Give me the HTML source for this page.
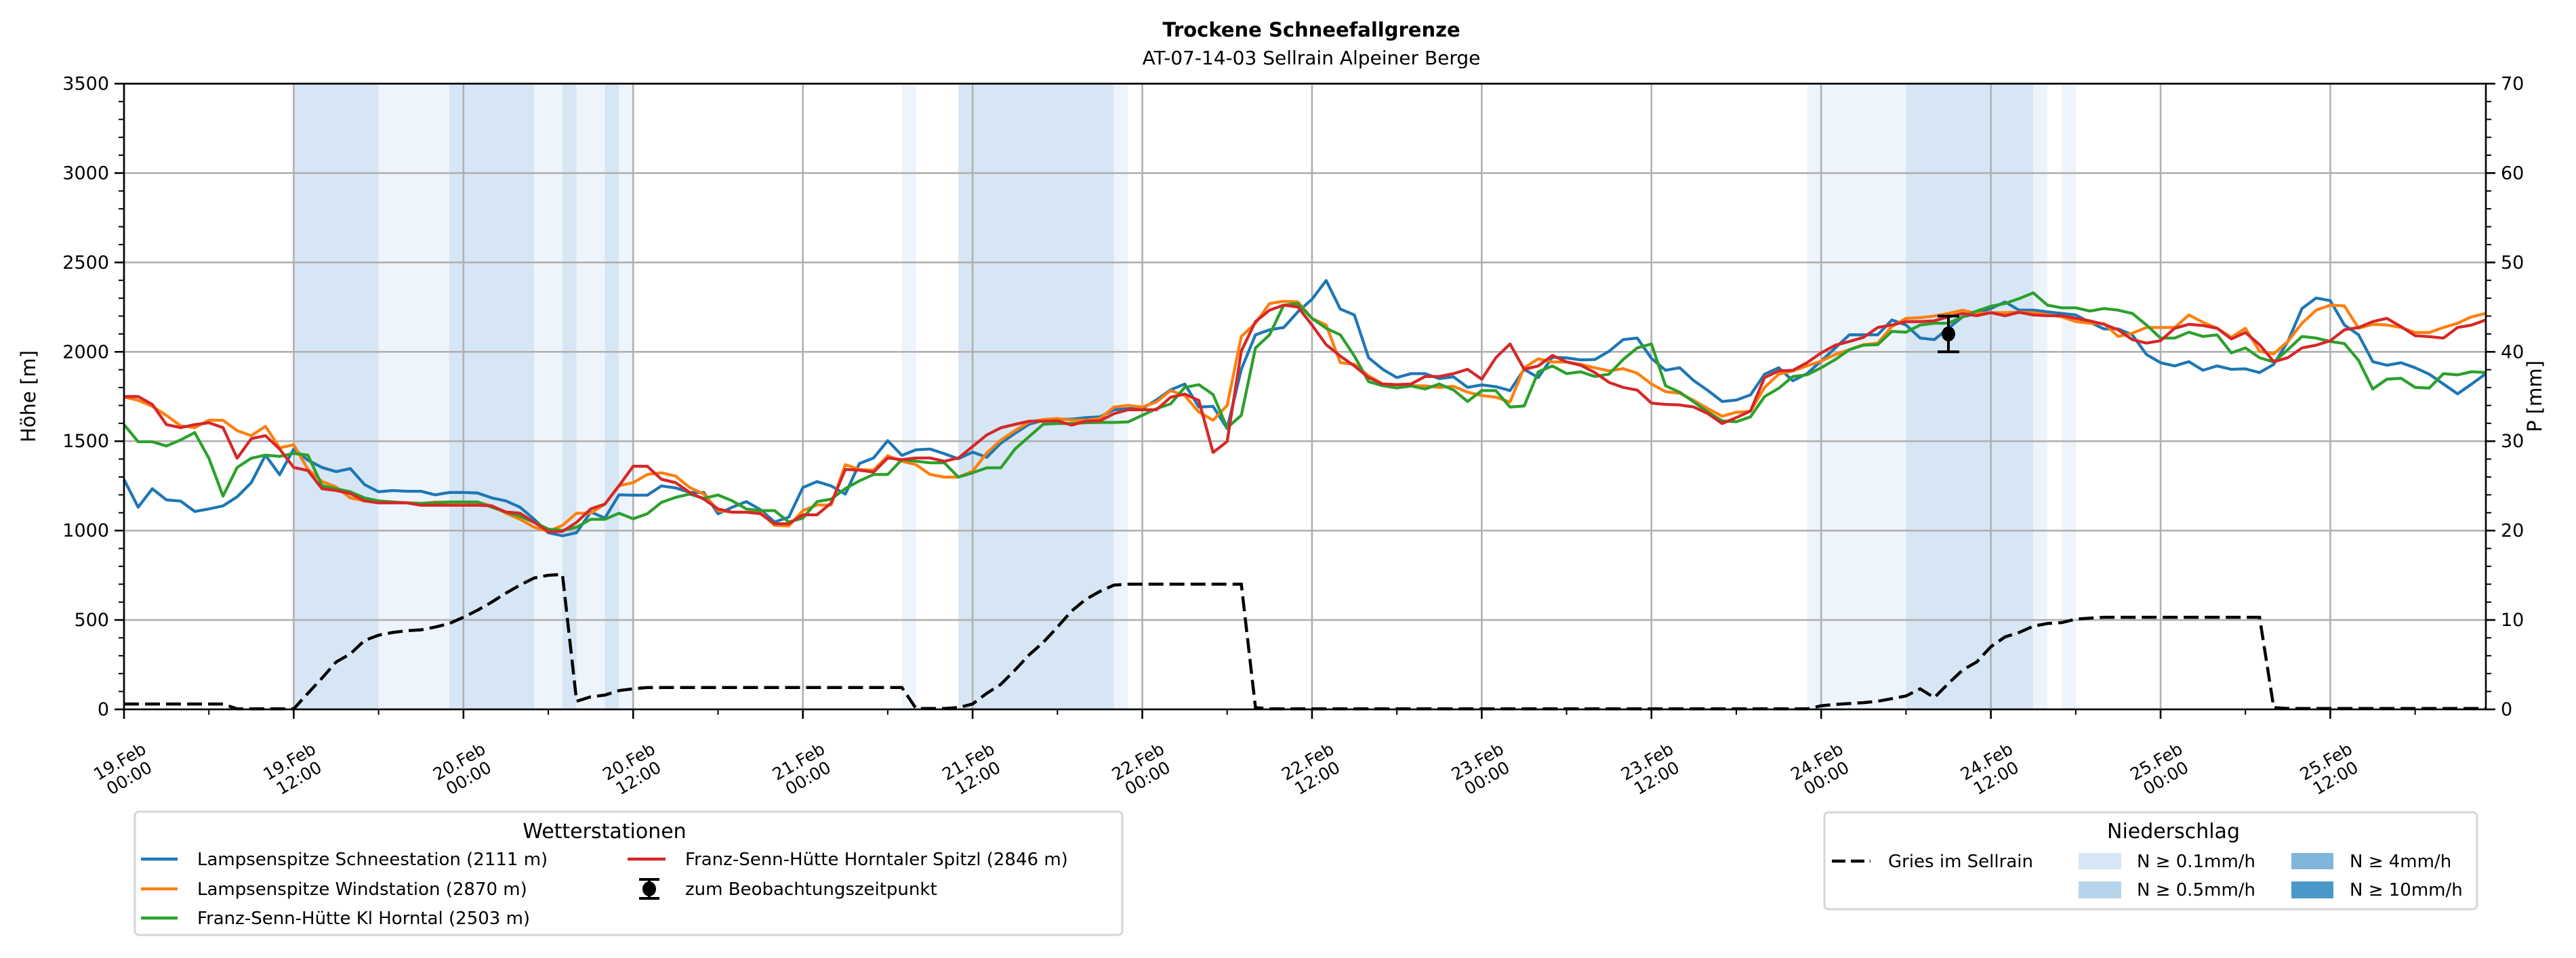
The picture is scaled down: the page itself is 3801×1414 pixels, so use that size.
<!DOCTYPE html>
<html><head><meta charset="utf-8"><style>
html,body{margin:0;padding:0;background:#fff;}
svg{display:block;font-family:"DejaVu Sans","Liberation Sans",sans-serif;}
</style></head><body>
<svg id="chart" xmlns="http://www.w3.org/2000/svg" width="3801" height="1414" viewBox="0 0 3801 1414">
<rect x="0" y="0" width="3801" height="1414" fill="#fff"/>
<text x="1935" y="54" text-anchor="middle" font-size="29" font-weight="bold">Trockene Schneefallgrenze</text>
<text x="1935" y="95" text-anchor="middle" font-size="28">AT-07-14-03 Sellrain Alpeiner Berge</text>
<g id="bands"></g>
<g id="grid"></g>
<g id="gries"></g>
<g id="lines"></g>
<g id="obs"></g>
<g id="axes"></g>
<text x="0" y="0" transform="translate(52,585) rotate(-90)" text-anchor="middle" font-size="29">Höhe [m]</text>
<text x="0" y="0" transform="translate(3750,585) rotate(-90)" text-anchor="middle" font-size="29">P [mm]</text>

<g>
<rect x="199" y="1198" width="1457" height="182" rx="6" fill="#fff" stroke="#d5d5d5" stroke-width="3"/>
<text x="892" y="1237" text-anchor="middle" font-size="30">Wetterstationen</text>
<g><line x1="208" y1="1268" x2="262" y2="1268" stroke="#1f77b4" stroke-width="4.5"/><text x="291" y="1277" font-size="26">Lampsenspitze Schneestation (2111 m)</text></g>
<g><line x1="208" y1="1312" x2="262" y2="1312" stroke="#ff7f0e" stroke-width="4.5"/><text x="291" y="1321" font-size="26">Lampsenspitze Windstation (2870 m)</text></g>
<g><line x1="208" y1="1355" x2="262" y2="1355" stroke="#2ca02c" stroke-width="4.5"/><text x="291" y="1364" font-size="26">Franz-Senn-Hütte Kl Horntal (2503 m)</text></g>
<g><line x1="926" y1="1268" x2="982" y2="1268" stroke="#d62728" stroke-width="4.5"/><text x="1011" y="1277" font-size="26">Franz-Senn-Hütte Horntaler Spitzl (2846 m)</text></g>
<g><line x1="958" y1="1298" x2="958" y2="1326" stroke="#000" stroke-width="4"/><line x1="943" y1="1298" x2="973" y2="1298" stroke="#000" stroke-width="4"/><line x1="943" y1="1326" x2="973" y2="1326" stroke="#000" stroke-width="4"/><ellipse cx="958" cy="1312" rx="10" ry="11"/><text x="1011" y="1321" font-size="26">zum Beobachtungszeitpunkt</text></g>
</g>

<g>
<rect x="2692" y="1199" width="963" height="143" rx="6" fill="#fff" stroke="#d5d5d5" stroke-width="3"/>
<text x="3207" y="1237" text-anchor="middle" font-size="30">Niederschlag</text>
<g><line x1="2703" y1="1271" x2="2760" y2="1271" stroke="#000" stroke-width="4.5" stroke-dasharray="20,8"/><text x="2786" y="1280" font-size="26">Gries im Sellrain</text></g>
<g><rect x="3067" y="1259" width="63" height="24" fill="#d6e6f4"/><text x="3153" y="1280" font-size="26">N ≥ 0.1mm/h</text></g>
<g><rect x="3067" y="1301" width="63" height="25" fill="#b8d4ea"/><text x="3153" y="1322" font-size="26">N ≥ 0.5mm/h</text></g>
<g><rect x="3381" y="1259" width="62" height="24" fill="#7fb6da"/><text x="3467" y="1280" font-size="26">N ≥ 4mm/h</text></g>
<g><rect x="3381" y="1301" width="62" height="25" fill="#4a98c9"/><text x="3467" y="1322" font-size="26">N ≥ 10mm/h</text></g>
</g>
</svg>
<script>
// ---- data (hourly, h=0 is 19.Feb 00:00) ----
const xTickLabels = [["19.Feb","00:00"],["19.Feb","12:00"],["20.Feb","00:00"],["20.Feb","12:00"],["21.Feb","00:00"],["21.Feb","12:00"],["22.Feb","00:00"],["22.Feb","12:00"],["23.Feb","00:00"],["23.Feb","12:00"],["24.Feb","00:00"],["24.Feb","12:00"],["25.Feb","00:00"],["25.Feb","12:00"]];
const xTickHours = [0,12,24,36,48,60,72,84,96,108,120,132,144,156];
const yLeftTicks = [0,500,1000,1500,2000,2500,3000,3500];
const yRightTicks = [0,10,20,30,40,50,60,70];
const bandStart = [12,18,23,29,31,32,34,35,55,59,70,119,126,135,137];
const bandEnd   = [18,23,29,31,32,34,35,36,56,70,71,126,135,136,138];
const bandLevel = [2,1,2,1,2,1,2,1,1,2,1,1,2,1,1];
const blue = [1285,1131,1234,1172,1165,1107,1121,1138,1189,1268,1422,1313,1456,1394,1353,1330,1347,1258,1217,1224,1220,1220,1200,1213,1213,1210,1183,1166,1131,1063,988,971,988,1104,1070,1200,
1198,1198,1250,1239,1213,1213,1094,1130,1162,1117,1048,1075,
1241,1274,1250,1204,1375,1406,1503,1421,1452,1456,1430,1402,1439,1410,1489,1544,1595,1617,1623,1623,1632,1636,1676,1682,1682,1731,1787,1820,1691,1695,1571,1902,2095,2123,2136,
2224,2294,2399,2239,2206,1967,1902,1856,1878,1878,1850,1860,1801,1815,1805,1783,1902,1856,1970,1966,1955,1957,2003,2068,2077,1963,1897,1911,1838,1783,1722,1730,1759,1875,1911,1838,1878,1948,2022,2095,2095,2095,2178,
2150,2077,2068,2132,2196,2215,2242,2279,2233,2233,2224,2215,2206,2165,2128,2128,2095,1985,1939,1921,1945,1897,1921,1902,1905,1884,1930,2058,2242,2301,2286,2150,2095,1945,1925,1939,1911,1875,1820,1765,1820,1878];
const orange = [1747,1729,1695,1644,1586,1576,1617,1617,1559,1531,1583,1463,1480,1343,1275,1244,1183,1166,1159,1157,1155,1152,1159,1159,1159,1159,1138,1097,1063,1019,995,1029,1097,1097,1148,1251,
1268,1314,1323,1305,1241,1204,1112,1103,1103,1103,1029,1026,
1112,1143,1143,1369,1342,1338,1419,1388,1369,1314,1299,1299,1332,1434,1507,1559,1608,1621,1627,1617,1617,1627,1691,1700,1691,1719,1783,1755,1663,1617,1700,2086,2160,2270,2283,
2279,2187,2150,1939,1930,1866,1820,1816,1811,1809,1801,1807,1774,1755,1746,1719,1911,1961,1943,1943,1930,1911,1893,1906,1880,1820,1777,1768,1728,1682,1640,1662,1667,1801,1875,1893,1921,1948,1985,2012,2040,2049,2141,
2187,2191,2200,2215,2233,2215,2219,2219,2222,2219,2208,2196,2169,2160,2158,2086,2104,2136,2136,2136,2206,2165,2132,2081,2132,2003,1989,2058,2160,2233,2261,2257,2132,2154,2150,2136,2108,2108,2136,2160,2196,2215];
const green = [1593,1497,1497,1473,1507,1548,1405,1193,1353,1405,1422,1415,1432,1422,1251,1234,1217,1183,1166,1160,1155,1152,1155,1160,1160,1160,1131,1104,1080,1046,1008,1001,1019,1063,1063,1097,
1066,1094,1158,1186,1204,1180,1199,1167,1121,1112,1112,1048,
1070,1162,1176,1235,1278,1314,1314,1397,1388,1379,1379,1299,1323,1351,1351,1456,1526,1595,1599,1599,1603,1605,1605,1608,1645,1682,1709,1801,1816,1761,1575,1645,2022,2095,2261,
2270,2187,2132,2095,1976,1833,1810,1798,1809,1792,1820,1787,1722,1783,1783,1691,1697,1888,1921,1878,1888,1862,1875,1957,2022,2044,1810,1774,1719,1663,1614,1609,1636,1750,1796,1862,1871,1911,1957,2012,2037,2040,2114,
2110,2150,2160,2160,2196,2228,2255,2270,2298,2330,2261,2246,2246,2228,2242,2233,2215,2150,2077,2077,2110,2086,2095,1994,2022,1967,1943,2012,2086,2077,2058,2046,1952,1792,1847,1852,1801,1797,1878,1871,1889,1884];
const red = [1750,1750,1706,1593,1576,1593,1603,1576,1405,1514,1531,1456,1353,1336,1234,1224,1207,1166,1155,1155,1155,1142,1142,1142,1142,1142,1138,1104,1097,1046,995,995,1046,1121,1148,1251,
1360,1360,1287,1268,1213,1176,1121,1103,1103,1094,1038,1038,
1088,1088,1154,1342,1338,1327,1406,1397,1406,1406,1388,1406,1470,1535,1575,1594,1612,1612,1614,1590,1612,1614,1654,1676,1676,1676,1746,1764,1728,1437,1498,2004,2169,2233,2261,
2251,2150,2040,1976,1921,1856,1820,1816,1820,1862,1862,1878,1902,1847,1967,2044,1902,1921,1980,1943,1925,1884,1829,1801,1786,1713,1706,1703,1691,1654,1599,1632,1669,1856,1893,1897,1939,1994,2037,2058,2081,2136,2150,
2169,2169,2173,2196,2215,2202,2219,2202,2221,2206,2202,2202,2187,2173,2154,2123,2068,2049,2062,2132,2154,2147,2132,2072,2108,2040,1945,1967,2022,2037,2062,2123,2136,2169,2187,2141,2090,2085,2077,2136,2150,2178];
const gries = [0.6,0.6,0.6,0.6,0.6,0.6,0.6,0.6,0.05,0.05,0.05,0.05,0.05,1.8,3.5,5.3,6.2,7.7,8.3,8.6,8.8,8.9,9.2,9.6,10.3,11.1,12,13,13.9,14.7,15,15.1,0.9,1.4,1.6,2.1,2.3,
2.45,2.45,2.45,2.45,2.45,2.45,2.45,2.45,2.45,2.45,2.45,2.45,2.45,2.45,2.45,2.45,2.45,2.45,2.45,0.1,0.1,0.1,0.2,0.6,1.8,2.8,4.4,6.1,7.5,9.2,11,12.3,13.2,13.9,
14,14,14,14,14,14,14,14,14,0.2,
0.05,0.05,0.05,0.05,0.05,0.05,0.05,0.05,0.05,0.05,0.05,0.05,0.05,0.05,0.05,0.05,0.05,0.05,0.05,0.05,0.05,0.05,0.05,0.05,0.05,0.05,0.05,0.05,0.05,0.05,0.05,0.05,0.05,0.05,0.05,0.05,0.05,0.05,0.05,
0.4,0.55,0.65,0.75,0.9,1.2,1.5,2.3,1.3,2.9,4.4,5.3,7,8.1,8.6,9.3,9.6,9.7,10.1,10.2,10.3,10.3,10.3,10.3,10.3,10.3,10.3,10.3,10.3,10.3,10.3,10.3,
0.2,0.1,0.1,0.1,0.1,0.1,0.1,0.1,0.1,0.1,0.1,0.1,0.1,0.1,0.1,0.1];
const obsHour = [129];
const obsValue = [2100];
const obsErr = [100];

// ---- scales ----
const L=183,R=3668,T=123.5,B=1047,XMAX=167;
function xs(h){return L+h*(R-L)/XMAX;}
function yl(v){return B-v*(B-T)/3500;}
function yr(v){return B-v*(B-T)/70;}
const NS="http://www.w3.org/2000/svg";
function mk(tag,attrs,parent){const e=document.createElementNS(NS,tag);for(const k in attrs)e.setAttribute(k,attrs[k]);parent.appendChild(e);return e;}

const bands=document.getElementById('bands');
for(let i=0;i<bandStart.length;i++){
  const r=mk('rect',{x:xs(bandStart[i]),y:T,width:xs(bandEnd[i])-xs(bandStart[i]),height:B-T,fill:bandLevel[i]===2?'#d6e6f4':'#eef4fb'},bands);
  
  
}
const grid=document.getElementById('grid');
yLeftTicks.forEach(v=>{const l=mk('line',{x1:L,x2:R,y1:yl(v),y2:yl(v),stroke:'#b0b0b0','stroke-width':2.6},grid);
  
  });
xTickHours.forEach(h=>{const l=mk('line',{x1:xs(h),x2:xs(h),y1:T,y2:B,stroke:'#b0b0b0','stroke-width':2.6},grid);
  
  });

function pathOf(arr,sc){return arr.map((v,i)=>(i?'L':'M')+xs(i).toFixed(1)+','+sc(v).toFixed(1)).join('');}
const gp=mk('path',{d:pathOf(gries,yr),fill:'none',stroke:'#000','stroke-width':4.5,'stroke-dasharray':'22,9'},document.getElementById('gries'));


const lines=document.getElementById('lines');
[[blue,'#1f77b4','lampsenspitze-schneestation-line'],[orange,'#ff7f0e','lampsenspitze-windstation-line'],[green,'#2ca02c','kl-horntal-line'],[red,'#d62728','horntaler-spitzl-line']].forEach(s=>{
  const p=mk('path',{d:pathOf(s[0],yl),fill:'none',stroke:s[1],'stroke-width':4.3,'stroke-linejoin':'round'},lines);
  
  
});
const obs=document.getElementById('obs');
for(let i=0;i<obsHour.length;i++){
  const cx=xs(obsHour[i]);
  mk('line',{x1:cx,x2:cx,y1:yl(obsValue[i]+obsErr[i]),y2:yl(obsValue[i]-obsErr[i]),stroke:'#000','stroke-width':4},obs);
  mk('line',{x1:cx-16,x2:cx+16,y1:yl(obsValue[i]+obsErr[i]),y2:yl(obsValue[i]+obsErr[i]),stroke:'#000','stroke-width':4},obs);
  mk('line',{x1:cx-16,x2:cx+16,y1:yl(obsValue[i]-obsErr[i]),y2:yl(obsValue[i]-obsErr[i]),stroke:'#000','stroke-width':4},obs);
  const c=mk('ellipse',{cx:cx,cy:yl(obsValue[i]),rx:10,ry:11,fill:'#000'},obs);
  
  
}
const ax=document.getElementById('axes');
mk('rect',{x:L,y:T,width:R-L,height:B-T,fill:'none',stroke:'#000','stroke-width':2.6},ax);
yLeftTicks.forEach(v=>{mk('line',{x1:L-14,x2:L,y1:yl(v),y2:yl(v),stroke:'#000','stroke-width':2.6},ax);
  const t=mk('text',{x:L-22,y:yl(v)+9,'text-anchor':'end','font-size':27},ax);t.textContent=v;
  
  });
for(let v=100;v<3500;v+=100){if(v%500)mk('line',{x1:L-8,x2:L,y1:yl(v),y2:yl(v),stroke:'#000','stroke-width':2},ax);}
yRightTicks.forEach(v=>{mk('line',{x1:R,x2:R+14,y1:yr(v),y2:yr(v),stroke:'#000','stroke-width':2.6},ax);
  const t=mk('text',{x:R+22,y:yr(v)+9,'text-anchor':'start','font-size':27},ax);t.textContent=v;
  
  });
for(let v=2;v<70;v+=2){if(v%10)mk('line',{x1:R,x2:R+8,y1:yr(v),y2:yr(v),stroke:'#000','stroke-width':2},ax);}
xTickHours.forEach((h,i)=>{mk('line',{x1:xs(h),x2:xs(h),y1:B,y2:B+14,stroke:'#000','stroke-width':2.6},ax);
  mk('line',{x1:xs(h+6),x2:xs(h+6),y1:B,y2:B+8,stroke:'#000','stroke-width':2},ax);
  const g=mk('g',{transform:'translate('+xs(h)+','+(B+88)+') rotate(-30)'},ax);
  
  
  const t1=mk('text',{x:0,y:-4,'text-anchor':'middle','font-size':25},g);t1.textContent=xTickLabels[i][0];
  const t2=mk('text',{x:0,y:24,'text-anchor':'middle','font-size':25},g);t2.textContent=xTickLabels[i][1];
});
</script>
</body></html>
